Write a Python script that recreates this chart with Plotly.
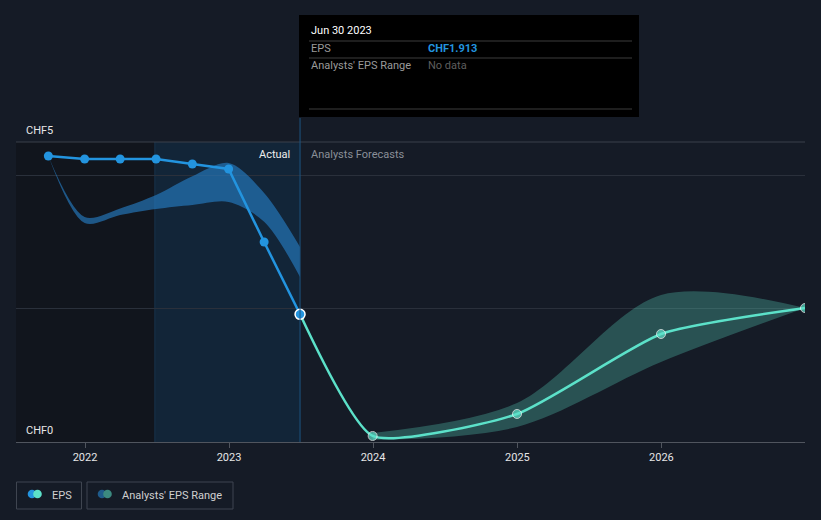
import plotly.graph_objects as go

# ---------------- data ----------------
actual_dates = ["2021-09-30", "2021-12-31", "2022-03-31", "2022-06-30",
                "2022-09-30", "2022-12-31", "2023-03-31", "2023-06-30"]
actual_eps = [4.285, 4.24, 4.24, 4.24, 4.165, 4.09, 2.996, 1.913]

past_range_dates = actual_dates
past_range_high = [4.285, 3.371, 3.50, 3.70, 3.98, 4.18, 3.73, 2.921]
past_range_low = [4.285, 3.281, 3.40, 3.49, 3.55, 3.596, 3.30, 2.472]

forecast_dates = ["2023-06-30", "2023-12-31", "2024-12-31", "2025-12-31", "2026-12-31"]
forecast_eps = [1.913, 0.09, 0.42, 1.618, 2.007]

range_dates = ["2023-12-31", "2024-12-31", "2025-12-31", "2026-12-31"]
range_high = [0.135, 0.584, 2.202, 2.007]
range_low = [0.03, 0.225, 1.199, 2.007]

x_ticks = ["2022-01-01", "2023-01-01", "2024-01-01", "2025-01-01", "2026-01-01"]
x_tick_labels = ["2022", "2023", "2024", "2025", "2026"]
y_grid = [2, 4]
y_labels = ["CHF5", "CHF0"]

# ---------------- geometry helpers ----------------
W, H = 821, 520
L, R, T, B = 16, 16, 142, 78
PW, PH = W - L - R, H - T - B


def px(x):
    return (x - L) / PW


def py(y):
    return (H - B - y) / PH


BLUE = "#2394df"
TEAL = "#5ce1c9"
BG = "#151b26"
FONT = "Roboto, Open Sans, sans-serif"

fig = go.Figure()

# past analyst range band
fig.add_trace(go.Scatter(x=past_range_dates, y=past_range_high, mode="lines",
                         line=dict(width=0, shape="spline", smoothing=0.9, color=BLUE),
                         hoverinfo="skip", showlegend=False))
fig.add_trace(go.Scatter(x=past_range_dates, y=past_range_low, mode="lines",
                         line=dict(width=0, shape="spline", smoothing=0.9, color=BLUE),
                         fill="tonexty", fillcolor="rgba(38,128,200,0.62)",
                         hoverinfo="skip", showlegend=False))

# forecast range band
fig.add_trace(go.Scatter(x=range_dates, y=range_high, mode="lines",
                         line=dict(width=0, shape="spline", smoothing=0.9, color=TEAL),
                         hoverinfo="skip", showlegend=False))
fig.add_trace(go.Scatter(x=range_dates, y=range_low, mode="lines",
                         line=dict(width=0, shape="spline", smoothing=0.9, color=TEAL),
                         fill="tonexty", fillcolor="rgba(92,225,201,0.28)",
                         hoverinfo="skip", showlegend=False))

# forecast line
fig.add_trace(go.Scatter(x=forecast_dates, y=forecast_eps, mode="lines+markers",
                         line=dict(width=2.5, color=TEAL, shape="spline", smoothing=0.55),
                         marker=dict(size=[0, 9, 9, 9, 9], color=TEAL),
                         showlegend=False))

# actual line
fig.add_trace(go.Scatter(x=actual_dates, y=actual_eps, mode="lines+markers",
                         line=dict(width=2.5, color=BLUE),
                         marker=dict(size=9, color=BLUE),
                         showlegend=False))

# highlighted point
fig.add_trace(go.Scatter(x=actual_dates[-1:], y=actual_eps[-1:], mode="markers",
                         marker=dict(size=10, color=BLUE, line=dict(color="white", width=1.5)),
                         showlegend=False))

shapes = []
# background regions
shapes.append(dict(type="rect", xref="x", yref="paper", x0="2021-07-10", x1="2022-06-27",
                   y0=0, y1=1, fillcolor="#11151d", line=dict(width=0), layer="below"))
shapes.append(dict(type="rect", xref="x", yref="paper", x0="2022-06-27", x1="2023-06-30",
                   y0=0, y1=1, fillcolor="#122538", line=dict(width=0), layer="below"))
shapes.append(dict(type="line", xref="x", yref="paper", x0="2022-06-27", x1="2022-06-27",
                   y0=0, y1=1, line=dict(color="#18324d", width=1), layer="below"))
# top grid line
shapes.append(dict(type="line", xref="paper", yref="paper", x0=0, x1=1, y0=1, y1=1,
                   line=dict(color="#3a404b", width=1), layer="below"))
# hover line
shapes.append(dict(type="line", xref="x", yref="paper", x0="2023-06-30", x1="2023-06-30",
                   y0=0, y1=py(118), line=dict(color="#1d5582", width=1)))
# tooltip
shapes.append(dict(type="rect", xref="paper", yref="paper", x0=px(299), x1=px(639),
                   y0=py(117), y1=py(15), fillcolor="#000000", line=dict(width=0)))
for yy in (41, 58, 109):
    shapes.append(dict(type="line", xref="paper", yref="paper", x0=px(309), x1=px(632),
                       y0=py(yy), y1=py(yy), line=dict(color="#3d3d3d", width=1)))
# legend boxes
shapes.append(dict(type="rect", xref="paper", yref="paper", x0=px(16.5), x1=px(81.5),
                   y0=py(509), y1=py(482), line=dict(color="#3f4550", width=1)))
shapes.append(dict(type="rect", xref="paper", yref="paper", x0=px(87), x1=px(233),
                   y0=py(509), y1=py(482), line=dict(color="#3f4550", width=1)))


def circle(cx, cy, r, color):
    return dict(type="circle", xref="paper", yref="paper",
                x0=px(cx - r), x1=px(cx + r), y0=py(cy + r), y1=py(cy - r),
                fillcolor=color, line=dict(width=0))


shapes += [circle(32, 494, 4.3, BLUE), circle(37.5, 494, 4.3, TEAL),
           circle(102, 494, 4.3, "#1f5b8b"), circle(107.5, 494, 4.3, "#3c8a80")]

annotations = []


def text(x, y, s, color, size=11, anchor="left", bold=False):
    annotations.append(dict(xref="paper", yref="paper", x=px(x), y=py(y),
                            text=f"<b>{s}</b>" if bold else s, showarrow=False,
                            xanchor=anchor, yanchor="middle",
                            font=dict(family=FONT, size=size, color=color)))


text(24, 130, y_labels[0], "#e6e6e6", 11)
text(24, 430, y_labels[1], "#e6e6e6", 11)
text(292, 154, "Actual", "#eeeeee", 11, anchor="right")
text(309, 154, "Analysts Forecasts", "#8a8f98", 11)
text(309, 31, "Jun 30 2023", "#ffffff", 11)
text(309, 48, "EPS", "#9a9a9a", 11)
text(426, 48, "CHF1.913", BLUE, 11, bold=True)
text(309, 66, "Analysts' EPS Range", "#9a9a9a", 11)
text(426, 66, "No data", "#5e5e5e", 11)
text(50, 495, "EPS", "#d0d0d0", 11)
text(120, 495, "Analysts' EPS Range", "#d0d0d0", 11)

fig.update_layout(
    width=W, height=H,
    margin=dict(l=L, r=R, t=T, b=B),
    paper_bgcolor=BG, plot_bgcolor=BG,
    font=dict(family=FONT, color="#e0e0e0", size=11),
    shapes=shapes, annotations=annotations,
    showlegend=False,
    xaxis=dict(type="date", range=["2021-07-10", "2026-12-31"],
               tickvals=x_ticks, ticktext=x_tick_labels,
               showgrid=False, zeroline=False,
               showline=True, linecolor="#50555e", linewidth=1,
               ticks="outside", ticklen=5, tickcolor="#50555e",
               tickfont=dict(size=11, color="#e6e6e6", family=FONT)),
    yaxis=dict(range=[0, PH / 66.75], tickvals=y_grid, showticklabels=False,
               showgrid=True, gridcolor="#2a303b", gridwidth=1,
               zeroline=False, showline=False, fixedrange=True),
)

fig.write_html("out.html")
